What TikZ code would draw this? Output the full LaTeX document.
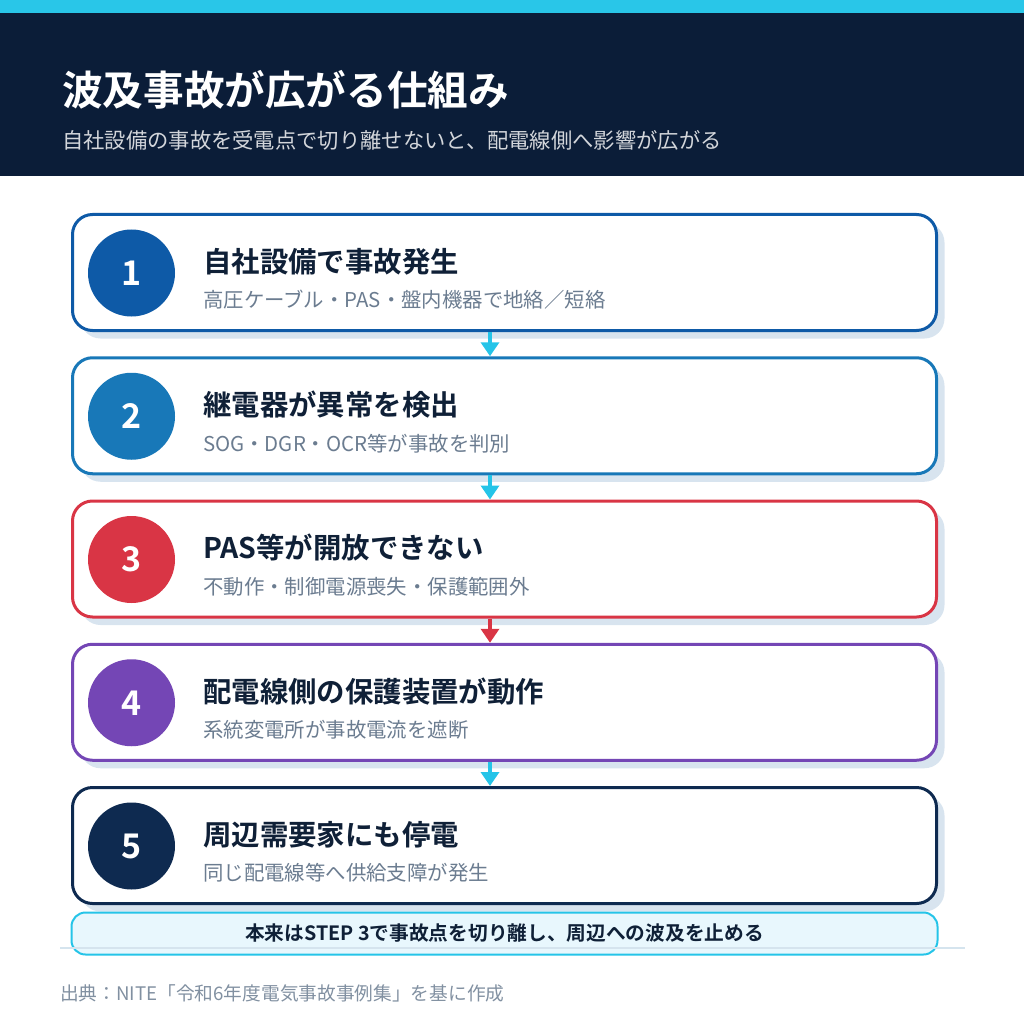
\documentclass[tikz,border=0pt]{standalone}
\usepackage{fontspec}
\setmainfont{Noto Sans CJK JP}[BoldFont={Noto Sans CJK JP Bold}]
\usetikzlibrary{shadows,arrows.meta}
\definecolor{topbar}{HTML}{29C6E8}
\definecolor{navy}{HTML}{0B1D38}
\definecolor{stepa}{HTML}{0E5AA7}
\definecolor{stepb}{HTML}{1878B8}
\definecolor{stepc}{HTML}{D93545}
\definecolor{stepd}{HTML}{7446B5}
\definecolor{stepe}{HTML}{0E2A50}
\definecolor{shade}{HTML}{D8E4EF}
\definecolor{ink}{HTML}{0F2037}
\definecolor{muted}{HTML}{6B7C90}
\definecolor{flowc}{HTML}{25C4E8}
\definecolor{notefill}{HTML}{E8F7FD}
\definecolor{rule}{HTML}{D5E4EE}
\tikzset{
  card/.style={draw, line width=3pt, rounded corners=20pt, fill=white,
    minimum width=864pt, minimum height=116pt,
    drop shadow={shadow xshift=8pt, shadow yshift=-8pt, fill=shade, opacity=1}},
  num/.style={circle, minimum size=87pt, inner sep=0pt, text=white,
    font=\bfseries\fontsize{34}{36}\selectfont},
  ttl/.style={anchor=west, inner sep=0pt, text=ink,
    font=\bfseries\fontsize{28.4}{31}\selectfont},
  txt/.style={anchor=west, inner sep=0pt, text=muted,
    font=\fontsize{20.4}{23}\selectfont},
  flow/.style={line width=4pt, -{Triangle[width=18pt,length=14pt]}}
}
\begin{document}
\begin{tikzpicture}[x=1pt,y=-1pt]
  \useasboundingbox (0,0) rectangle (1024,1024);
  % header
  \fill[topbar] (0,0) rectangle (1024,13);
  \fill[navy] (0,13) rectangle (1024,176);
  \node[anchor=west, inner sep=0pt, text=white, font=\bfseries\fontsize{40.6}{44}\selectfont]
    (head) at (62,90) {波及事故が広がる仕組み};
  \node[anchor=west, inner sep=0pt, text=white!82!navy, font=\fontsize{21.3}{24}\selectfont]
    (lead) at (62,140) {自社設備の事故を受電点で切り離せないと、配電線側へ影響が広がる};
  % steps
  \foreach \i/\c/\t/\s in {
    1/stepa/自社設備で事故発生/高圧ケーブル・PAS・盤内機器で地絡／短絡,
    2/stepb/継電器が異常を検出/SOG・DGR・OCR等が事故を判別,
    3/stepc/PAS等が開放できない/不動作・制御電源喪失・保護範囲外,
    4/stepd/配電線側の保護装置が動作/系統変電所が事故電流を遮断,
    5/stepe/周辺需要家にも停電/同じ配電線等へ供給支障が発生} {
    \node[card, draw=\c] (s\i) at (504.5, {272.5+143.25*(\i-1)}) {};
    \node[num, fill=\c] (n\i) at (131.5, {273+143.25*(\i-1)}) {\i};
    \node[ttl] (t\i) at (203, {261.5+143.25*(\i-1)}) {\t};
    \node[txt] (d\i) at (203, {300+143.25*(\i-1)}) {\s};
  }
  % arrows
  \foreach \i/\j/\c in {1/2/flowc, 2/3/flowc, 3/4/stepc, 4/5/flowc} {
    \draw[flow, draw=\c, fill=\c] ([xshift=-14.5pt]s\i.south) -- ([xshift=-14.5pt]s\j.north);
  }
  % note
  \node[draw=flowc, line width=2pt, fill=notefill, rounded corners=14pt,
    minimum width=866pt, minimum height=42pt, text=ink,
    font=\bfseries\fontsize{19.7}{22}\selectfont] (note) at (504.5,933.5)
    {本来はSTEP 3で事故点を切り離し、周辺への波及を止める};
  \coordinate (ra) at (60,947.5);
  \coordinate (rb) at (965,947.5);
  \draw[rule, line width=2pt] (ra) -- (rb);
  \node[anchor=west, inner sep=0pt, text=muted!85!white, font=\fontsize{18.7}{21}\selectfont]
    (src) at (60,993) {出典：NITE「令和6年度電気事故事例集」を基に作成};
\end{tikzpicture}
\end{document}
